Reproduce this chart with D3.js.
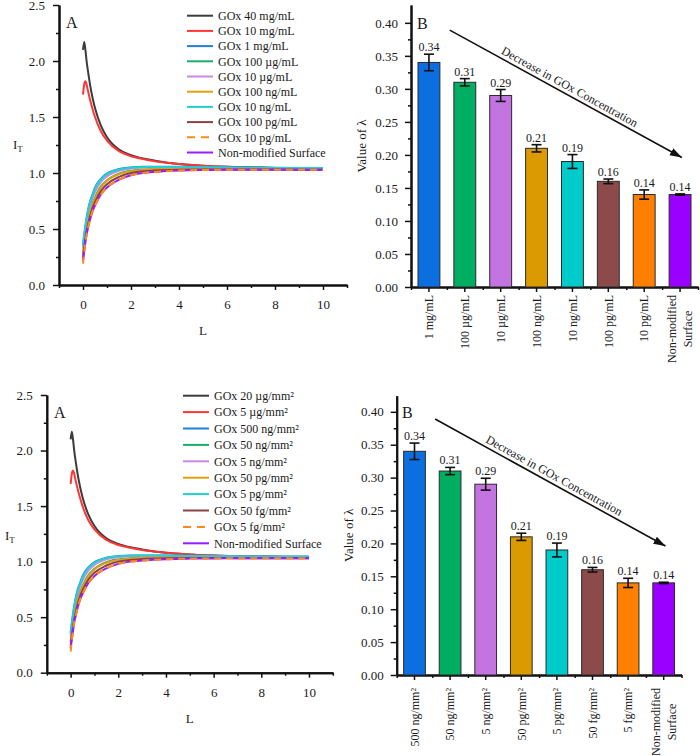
<!DOCTYPE html>
<html>
<head>
<meta charset="utf-8">
<script src="https://cdn.jsdelivr.net/npm/d3@7"></script>
<style>
  body { margin: 0; background: #fff; }
  svg text { font-family: "Liberation Serif", "Times New Roman", serif; fill: #1a1a1a; }
  .axis path, .axis line { stroke: #111; }
  .axis text { font-size: 13px; }
</style>
</head>
<body>
<div id="figure"></div>
<script>

// ---- panel A data: I_T against L (same simulated curves in both rows)
var lengthValues = [0, 0.05, 0.1, 0.15, 0.2, 0.3, 0.4, 0.5, 0.75, 1, 1.5, 2, 2.5, 3, 4, 5, 6, 7, 8, 9, 10];

var currentBlack  = [2.10, 2.17, 2.10, 2.00, 1.92, 1.78, 1.67, 1.58, 1.42, 1.32, 1.21, 1.16, 1.13, 1.11, 1.08, 1.065, 1.055, 1.05, 1.045, 1.042, 1.04];
var currentRed    = [1.70, 1.79, 1.82, 1.79, 1.74, 1.65, 1.57, 1.50, 1.37, 1.29, 1.195, 1.15, 1.125, 1.105, 1.08, 1.065, 1.055, 1.05, 1.045, 1.042, 1.04];
var currentBlue   = [0.36, 0.45, 0.53, 0.60, 0.66, 0.75, 0.81, 0.87, 0.95, 0.995, 1.035, 1.05, 1.055, 1.055, 1.055, 1.052, 1.05, 1.048, 1.046, 1.045, 1.045];
var currentGreen  = [0.28, 0.37, 0.45, 0.52, 0.57, 0.66, 0.73, 0.78, 0.88, 0.935, 0.995, 1.02, 1.03, 1.035, 1.04, 1.04, 1.04, 1.038, 1.037, 1.036, 1.035];
var currentPink   = [0.33, 0.42, 0.50, 0.57, 0.62, 0.71, 0.78, 0.83, 0.92, 0.97, 1.02, 1.04, 1.047, 1.05, 1.05, 1.048, 1.046, 1.044, 1.042, 1.041, 1.04];
var currentOrange = [0.27, 0.36, 0.44, 0.51, 0.56, 0.65, 0.72, 0.77, 0.87, 0.93, 0.99, 1.015, 1.027, 1.033, 1.038, 1.038, 1.037, 1.036, 1.035, 1.034, 1.034];
var currentCyan   = [0.35, 0.44, 0.52, 0.59, 0.65, 0.74, 0.80, 0.86, 0.945, 0.99, 1.032, 1.048, 1.053, 1.054, 1.054, 1.051, 1.049, 1.047, 1.045, 1.044, 1.044];
var currentBrown  = [0.24, 0.33, 0.41, 0.48, 0.53, 0.62, 0.69, 0.74, 0.84, 0.90, 0.965, 1.0, 1.015, 1.023, 1.03, 1.032, 1.032, 1.031, 1.031, 1.03, 1.03];
var currentDashed = [0.19, 0.29, 0.38, 0.45, 0.50, 0.59, 0.66, 0.71, 0.81, 0.87, 0.94, 0.98, 1.0, 1.01, 1.022, 1.027, 1.029, 1.03, 1.03, 1.03, 1.03];
var currentPurple = [0.22, 0.30, 0.38, 0.45, 0.50, 0.59, 0.66, 0.71, 0.81, 0.87, 0.94, 0.98, 1.0, 1.01, 1.022, 1.027, 1.029, 1.03, 1.03, 1.03, 1.03];

var curveSeries = [currentBlack, currentRed, currentBlue, currentGreen, currentPink,
  currentOrange, currentCyan, currentBrown, currentDashed, currentPurple];
var curveColors = ['#3c3c3c', '#ff3535', '#1f7fdc', '#1aae6c', '#c98ae6',
  '#e0a010', '#22d0d0', '#8b4242', '#ff8a1c', '#9a1cff'];
var curveDashed = [false, false, false, false, false, false, false, false, true, false];

var legendTop = ['GOx 40 mg/mL', 'GOx 10 mg/mL', 'GOx 1 mg/mL', 'GOx 100 \u00b5g/mL', 'GOx 10 \u00b5g/mL',
  'GOx 100 ng/mL', 'GOx 10 ng/mL', 'GOx 100 pg/mL', 'GOx 10 pg/mL', 'Non-modified Surface'];
var legendBottom = ['GOx 20 \u00b5g/mm\u00b2', 'GOx 5 \u00b5g/mm\u00b2', 'GOx 500 ng/mm\u00b2', 'GOx 50 ng/mm\u00b2',
  'GOx 5 ng/mm\u00b2', 'GOx 50 pg/mm\u00b2', 'GOx 5 pg/mm\u00b2', 'GOx 50 fg/mm\u00b2', 'GOx 5 fg/mm\u00b2',
  'Non-modified Surface'];

var itTicks = [0, 0.5, 1, 1.5, 2, 2.5];
var itMinorTicks = [0.25, 0.75, 1.25, 1.75, 2.25];
var lengthTicks = [0, 2, 4, 6, 8, 10];
var lengthMinorTicks = [-1, 1, 3, 5, 7, 9, 11];

// ---- panel B data: lambda per concentration
var lambdaValues = [0.34, 0.31, 0.29, 0.21, 0.19, 0.16, 0.14, 0.14];
var lambdaErrors = [0.0125, 0.0055, 0.009, 0.0055, 0.0105, 0.0035, 0.007, 0.001];
var barColors = ['#0b6fe2', '#00ae62', '#c474e0', '#db9a00', '#00cbcb', '#8c4a4a', '#ff8000', '#9a00ff'];

var categoriesTop = ['1 mg/mL', '100 \u00b5g/mL', '10 \u00b5g/mL', '100 ng/mL', '10 ng/mL',
  '100 pg/mL', '10 pg/mL', 'Non-modified\nSurface'];
var categoriesBottom = ['500 ng/mm\u00b2', '50 ng/mm\u00b2', '5 ng/mm\u00b2', '50 pg/mm\u00b2', '5 pg/mm\u00b2',
  '50 fg/mm\u00b2', '5 fg/mm\u00b2', 'Non-modified\nSurface'];

var lambdaTicks = [0, 0.05, 0.1, 0.15, 0.2, 0.25, 0.3, 0.35, 0.4];
var lambdaMinorTicks = [0.025, 0.075, 0.125, 0.175, 0.225, 0.275, 0.325, 0.375];

// arrow given in (band steps, lambda) units
var arrowFrom = [1.08, 0.389];
var arrowTo = [7.55, 0.196];

var svg = d3.select('#figure')
  .append('svg')
    .attr('width', 700)
    .attr('height', 756);

svg.append('defs')
  .append('marker')
    .attr('id', 'head')
    .attr('markerUnits', 'userSpaceOnUse')
    .attr('markerWidth', 13)
    .attr('markerHeight', 9)
    .attr('refX', 12)
    .attr('refY', 4)
    .attr('orient', 'auto')
  .append('path')
    .attr('d', 'M0,0L12,4L0,8Z')
    .attr('fill', '#111');

function styleAxis(g, width) {
  g.attr('class', 'axis').attr('font-size', null).attr('font-family', null);
  g.select('.domain').attr('stroke-width', 2);
  g.selectAll('.tick line').attr('stroke-width', width || 1.5);
}

function drawCurvePanel(p, labels) {

  var g = svg.append('g');

  var x = d3.scaleLinear().domain([-1, 11]).range([p.left, p.right]);
  var y = d3.scaleLinear().domain([0, 2.5]).range([p.bottom, p.top]);

  g.append('g')
      .attr('transform', 'translate(0,' + p.bottom + ')')
      .call(d3.axisBottom(x).tickValues(lengthMinorTicks).tickSize(3).tickFormat('').tickSizeOuter(0))
      .call(styleAxis);

  g.append('g')
      .attr('transform', 'translate(0,' + p.bottom + ')')
      .call(d3.axisBottom(x).tickValues(lengthTicks).tickSize(5).tickPadding(10)
        .tickFormat(d3.format('d')).tickSizeOuter(0))
      .call(styleAxis);

  g.append('g')
      .attr('transform', 'translate(' + p.left + ',0)')
      .call(d3.axisLeft(y).tickValues(itMinorTicks).tickSize(3).tickFormat('').tickSizeOuter(0))
      .call(styleAxis);

  g.append('g')
      .attr('transform', 'translate(' + p.left + ',0)')
      .call(d3.axisLeft(y).tickValues(itTicks).tickSize(6).tickPadding(8)
        .tickFormat(d3.format('.1f')).tickSizeOuter(0))
      .call(styleAxis);

  var line = d3.line()
      .curve(d3.curveMonotoneX)
      .x(function (d, i) { return x(lengthValues[i]); })
      .y(function (d) { return y(d); });

  // purple goes under the dashed orange one
  var order = [0, 1, 2, 3, 4, 5, 6, 7, 9, 8];

  g.selectAll('.curve')
      .data(order)
      .enter()
    .append('path')
      .attr('class', 'curve')
      .attr('fill', 'none')
      .attr('stroke', function (k) { return curveColors[k]; })
      .attr('stroke-width', 2)
      .attr('stroke-dasharray', function (k) { return curveDashed[k] ? '7,5' : null; })
      .attr('d', function (k) { return line(curveSeries[k]); });

  var legend = g.selectAll('.legend')
      .data(labels)
      .enter()
    .append('g')
      .attr('transform', function (d, i) {
        return 'translate(' + p.legendX + ',' + (p.legendY + i * p.legendStep) + ')';
      });

  legend.append('line')
      .attr('x1', 0)
      .attr('x2', 26)
      .attr('stroke', function (d, i) { return curveColors[i]; })
      .attr('stroke-width', 2)
      .attr('stroke-dasharray', function (d, i) { return curveDashed[i] ? '8,6' : null; });

  legend.append('text')
      .attr('x', 31)
      .attr('dy', '0.35em')
      .attr('font-size', 12)
      .text(function (d) { return d; });

  g.append('text')
      .attr('x', p.letter[0])
      .attr('y', p.letter[1])
      .attr('font-size', 16)
      .text('A');

  g.append('text')
      .attr('x', (p.left + p.right) / 2)
      .attr('y', p.bottom + 50)
      .attr('text-anchor', 'middle')
      .attr('font-size', 13)
      .text('L');

  var it = g.append('text')
      .attr('x', p.itX)
      .attr('y', p.itY)
      .attr('font-size', 13)
      .text('I');

  it.append('tspan')
      .attr('dy', 3)
      .attr('font-size', 9)
      .text('T');
}

function drawBarPanel(p, categories) {

  var g = svg.append('g');

  var x = d3.scaleBand()
      .domain(categories)
      .range([p.left, p.right])
      .paddingInner(0.39)
      .paddingOuter(0.195);

  var y = d3.scaleLinear().domain([0, p.yMax]).range([p.bottom, p.top]);

  var boundaries = d3.range(categories.length + 1).map(function (i) {
    return p.left + i * x.step();
  });

  g.append('g')
      .attr('transform', 'translate(0,' + p.bottom + ')')
      .call(d3.axisBottom(d3.scaleIdentity([p.left, p.right])).tickValues(boundaries)
        .tickSize(3).tickFormat('').tickSizeOuter(0))
      .call(styleAxis);

  g.append('g')
      .attr('transform', 'translate(0,' + p.bottom + ')')
      .call(d3.axisBottom(x).tickSize(5).tickFormat('').tickSizeOuter(0))
      .call(styleAxis);

  g.append('g')
      .attr('transform', 'translate(' + p.left + ',0)')
      .call(d3.axisLeft(y).tickValues(lambdaMinorTicks).tickSize(3).tickFormat('').tickSizeOuter(0))
      .call(styleAxis);

  g.append('g')
      .attr('transform', 'translate(' + p.left + ',0)')
      .call(d3.axisLeft(y).tickValues(lambdaTicks).tickSize(6).tickPadding(7)
        .tickFormat(d3.format('.2f')).tickSizeOuter(0))
      .call(styleAxis);

  g.selectAll('.bar')
      .data(lambdaValues)
      .enter()
    .append('rect')
      .attr('class', 'bar')
      .attr('x', function (d, i) { return x(categories[i]); })
      .attr('y', function (d) { return y(d); })
      .attr('width', x.bandwidth())
      .attr('height', function (d) { return p.bottom - y(d); })
      .attr('fill', function (d, i) { return barColors[i]; })
      .attr('stroke', '#2a2a2a')
      .attr('stroke-width', 1);

  var err = g.selectAll('.err')
      .data(lambdaValues)
      .enter()
    .append('g')
      .attr('transform', function (d, i) {
        return 'translate(' + (x(categories[i]) + x.bandwidth() / 2) + ',0)';
      });

  err.append('line')
      .attr('y1', function (d, i) { return y(d + lambdaErrors[i]); })
      .attr('y2', function (d, i) { return y(d - lambdaErrors[i]); })
      .attr('stroke', '#111')
      .attr('stroke-width', 1.6);

  err.selectAll('.cap')
      .data(function (d, i) { return [d + lambdaErrors[i], d - lambdaErrors[i]]; })
      .enter()
    .append('line')
      .attr('x1', -5)
      .attr('x2', 5)
      .attr('y1', function (d) { return y(d); })
      .attr('y2', function (d) { return y(d); })
      .attr('stroke', '#111')
      .attr('stroke-width', 1.6);

  err.append('text')
      .attr('y', function (d, i) { return y(d + lambdaErrors[i]) - 3; })
      .attr('text-anchor', 'middle')
      .attr('font-size', 12)
      .text(function (d) { return d3.format('.2f')(d); });

  // rotated category labels
  categories.forEach(function (c, i) {
    var lines = c.split('\n');
    var lab = g.append('g')
        .attr('transform', 'translate(' + (x(c) + x.bandwidth() / 2) + ',' + (p.bottom + p.labelGap) + ') rotate(-90)');

    var first = lab.append('text')
        .attr('text-anchor', 'end')
        .attr('dy', '0.35em')
        .attr('y', lines.length > 1 ? -8 : 0)
        .attr('font-size', 12)
        .text(lines[0]);

    if (lines.length > 1) {
      var len = first.node().getComputedTextLength();
      lab.append('text')
          .attr('text-anchor', 'middle')
          .attr('x', -len / 2)
          .attr('y', 8)
          .attr('dy', '0.35em')
          .attr('font-size', 12)
          .text(lines[1]);
    }
  });

  g.append('text')
      .attr('transform', 'translate(' + p.titleX + ',' + ((p.top + p.bottom) / 2) + ') rotate(-90)')
      .attr('text-anchor', 'middle')
      .attr('font-size', 13)
      .text('Value of \u03bb');

  g.append('text')
      .attr('x', p.letter[0])
      .attr('y', p.letter[1])
      .attr('font-size', 16)
      .text('B');

  var ax0 = p.left + arrowFrom[0] * x.step(), ay0 = y(arrowFrom[1]);
  var ax1 = p.left + arrowTo[0] * x.step(), ay1 = y(arrowTo[1]);
  var angle = Math.atan2(ay1 - ay0, ax1 - ax0) * 180 / Math.PI;

  g.append('line')
      .attr('x1', ax0)
      .attr('y1', ay0)
      .attr('x2', ax1)
      .attr('y2', ay1)
      .attr('stroke', '#111')
      .attr('stroke-width', 1.6)
      .attr('marker-end', 'url(#head)');

  g.append('text')
      .attr('transform', 'translate(' + ((ax0 + ax1) / 2) + ',' + ((ay0 + ay1) / 2) + ') rotate(' + angle + ')')
      .attr('y', -4)
      .attr('text-anchor', 'middle')
      .attr('font-size', 12)
      .text('Decrease in GOx Concentration');
}

drawCurvePanel({ left: 59, right: 347, bottom: 285, top: 5,
  legendX: 187, legendY: 15.7, legendStep: 15.2, letter: [66, 28], itX: 13, itY: 149 }, legendTop);

drawCurvePanel({ left: 46.8, right: 332.8, bottom: 672.7, top: 395,
  legendX: 183, legendY: 395.7, legendStep: 16.4, letter: [54, 418], itX: 5, itY: 540 }, legendBottom);

drawBarPanel({ left: 411, right: 698, bottom: 287, top: 5, yMax: 0.427,
  labelGap: 8, titleX: 366, letter: [417, 29] }, categoriesTop);

drawBarPanel({ left: 396.7, right: 681.5, bottom: 675, top: 395.7, yMax: 0.4245,
  labelGap: 13, titleX: 353, letter: [402, 418] }, categoriesBottom);

</script>
</body>
</html>
